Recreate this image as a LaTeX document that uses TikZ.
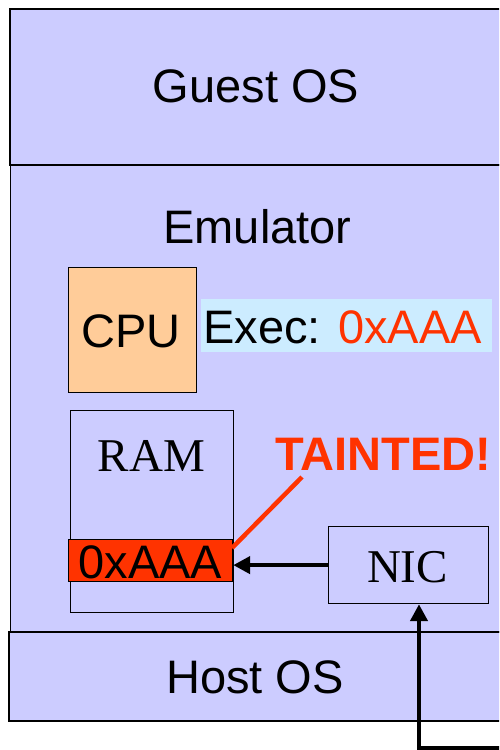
\documentclass[tikz,border=0pt]{standalone}
\usepackage{fontspec}
\setmainfont{Liberation Sans}
\newfontfamily\timesf{Liberation Serif}
\usetikzlibrary{arrows.meta}
\definecolor{lav}{HTML}{CCCCFF}
\definecolor{peach}{HTML}{FFCC99}
\definecolor{sky}{HTML}{CCECFF}
\definecolor{hot}{HTML}{FF3300}
\begin{document}
\begin{tikzpicture}[x=1pt,y=-1pt,
  layer/.style={draw=black, line width=1.6pt, fill=lav, anchor=north west, inner sep=0pt},
  inbox/.style={draw=black, line width=1.2pt, anchor=north west, inner sep=0pt},
  big/.style={font=\fontsize{47}{52}\selectfont, anchor=base, inner sep=0pt},
  serifbig/.style={font=\timesf\fontsize{47}{52}\selectfont, anchor=base, inner sep=0pt},
  arr/.style={line width=4.6pt, line join=miter, -{Triangle[length=17pt,width=17pt]}},
]
\clip (0,0) rectangle (499,750);
\fill[white] (0,0) rectangle (499,750);
% layers
\node[layer, minimum width=511pt, minimum height=156pt] (guest) at (9,8) {};
\node[layer, minimum width=511pt, minimum height=467pt] (emu) at (9.5,164) {};
\node[layer, minimum width=512pt, minimum height=89pt] (host) at (8,631) {};
\node[big] (tguest) at (256,102) {Guest OS};
\node[big] (temu) at (257.5,243) {Emulator};
\node[big] (thost) at (255,693) {Host OS};
% CPU
\node[inbox, fill=peach, minimum width=128pt, minimum height=125pt] (cpu) at (68,267) {};
\node[big] (tcpu) at (131,347) {CPU};
\node[fill=sky, anchor=north west, minimum width=291pt, minimum height=53pt, inner sep=0pt] (execbg) at (201,299) {};
\node[big, anchor=base west] (texec) at (203,343) {Exec: \textcolor{hot}{0xAAA}};
% RAM
\node[inbox, minimum width=163pt, minimum height=202pt] (ram) at (70,410) {};
\node[serifbig] (tram) at (151.5,471) {RAM};
\node[inbox, fill=hot, minimum width=164pt, minimum height=42pt] (addr) at (68,539) {};
\node[big] (taddr) at (150.5,578) {0xAAA};
% NIC
\node[inbox, minimum width=160pt, minimum height=77pt] (nic) at (328,526) {};
\node[serifbig] (tnic) at (407.5,582) {NIC};
% tainted
\node[big, font=\bfseries\fontsize{47}{52}\selectfont, text=hot] (taint) at (383.5,470) {TAINTED!};
\coordinate (tailA) at (302,477);
\coordinate (tailB) at (232,548);
\draw[hot, line width=4.5pt] (tailA) -- (tailB);
% arrows
\draw[arr] (nic.west) -- (nic.west -| addr.east);
\coordinate (feed) at (530,748);
\coordinate (bend) at (419,748);
\draw[arr] (feed) -- (bend) -- (bend |- nic.south);
\end{tikzpicture}
\end{document}
